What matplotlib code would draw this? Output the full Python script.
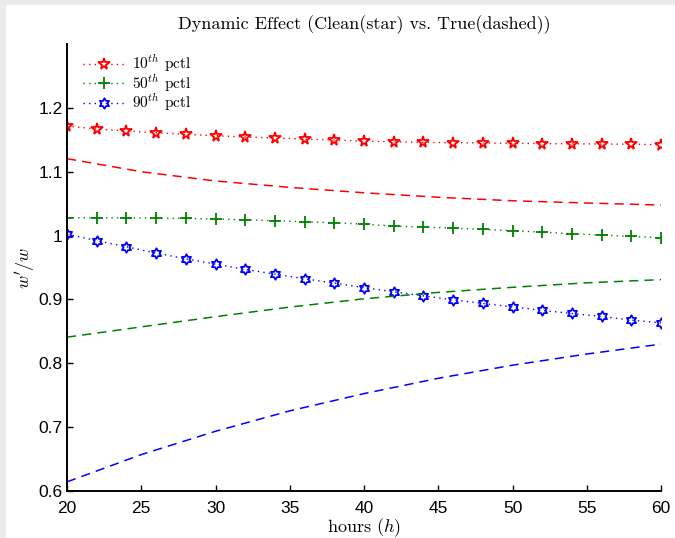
import matplotlib
matplotlib.use("Agg")
import matplotlib.pyplot as plt
import numpy as np
from matplotlib.path import Path
from matplotlib.patches import Rectangle

# Clean (star) series, sampled every 2 hours
hours_clean = [20, 22, 24, 26, 28, 30, 32, 34, 36, 38, 40,
               42, 44, 46, 48, 50, 52, 54, 56, 58, 60]
p10_clean = [1.1716, 1.1669, 1.1638, 1.1611, 1.1586, 1.1564, 1.1544, 1.1528,
             1.1512, 1.1497, 1.1478, 1.1470, 1.1460, 1.1455, 1.1450, 1.1445,
             1.1440, 1.1437, 1.1434, 1.1430, 1.1423]
p50_clean = [1.0279, 1.0279, 1.0278, 1.0274, 1.0269, 1.0259, 1.0248, 1.0232,
             1.0216, 1.0201, 1.0178, 1.0149, 1.0133, 1.0118, 1.0097, 1.0075,
             1.0055, 1.0028, 1.0008, 0.9987, 0.9966]
p90_clean = [1.0024, 0.9920, 0.9825, 0.9726, 0.9636, 0.9553, 0.9470, 0.9397,
             0.9323, 0.9256, 0.9185, 0.9120, 0.9056, 0.8994, 0.8937, 0.8884,
             0.8828, 0.8780, 0.8733, 0.8676, 0.8633]

# True (dashed) series
hours_true = [20, 25, 30, 35, 40, 45, 50, 55, 60]
p10_true = [1.1204, 1.1000, 1.0855, 1.0755, 1.0670, 1.0600, 1.0545, 1.0510, 1.0478]
p50_true = [0.8409, 0.8570, 0.8730, 0.8880, 0.9010, 0.9110, 0.9190, 0.9260, 0.9310]
p90_true = [0.6143, 0.6570, 0.6935, 0.7255, 0.7525, 0.7765, 0.7970, 0.8145, 0.8300]

legend_labels = [r"$10^{th}$ pctl", r"$50^{th}$ pctl", r"$90^{th}$ pctl"]
x_ticks = [20, 25, 30, 35, 40, 45, 50, 55, 60]
y_ticks = [0.6, 0.7, 0.8, 0.9, 1.0, 1.1, 1.2]
y_tick_labels = ["0.6", "0.7", "0.8", "0.9", "1", "1.1", "1.2"]

plt.rcParams["mathtext.fontset"] = "cm"
plt.rcParams["font.family"] = ["Liberation Sans", "DejaVu Sans"]

# six-pointed star (hexagram) marker
ang = np.pi / 2 + np.arange(12) * np.pi / 6
rad = np.where(np.arange(12) % 2 == 0, 1.0, 1.0 / np.sqrt(3))
verts = np.column_stack([rad * np.cos(ang), rad * np.sin(ang)])
verts = np.vstack([verts, verts[:1]])
hexagram = Path(verts, [Path.MOVETO] + [Path.LINETO] * 11 + [Path.CLOSEPOLY])

fig = plt.figure(figsize=(6.75, 5.38), dpi=100)
fig.patch.set_facecolor("#ebebeb")
fig.patches.append(Rectangle((6 / 675, 0), 1 - 6 / 675, 1 - 5 / 538,
                             transform=fig.transFigure, facecolor="white",
                             edgecolor="none", zorder=-10))

ax = fig.add_axes([67 / 675, 47 / 538, (661 - 67) / 675, (491 - 44) / 538])
ax.set_facecolor("white")

dot = (0, (1, 3))
dash = (0, (6, 4))
ax.plot(hours_clean, p10_clean, color="red", linestyle=dot, lw=1,
        marker="*", ms=8.5, mfc="none", mec="red", mew=1.3, label=legend_labels[0])
ax.plot(hours_clean, p50_clean, color="green", linestyle=dot, lw=1,
        marker="+", ms=8, mec="green", mew=1.3, label=legend_labels[1])
ax.plot(hours_clean, p90_clean, color="blue", linestyle=dot, lw=1,
        marker=hexagram, ms=7.5, mfc="none", mec="blue", mew=1.3, label=legend_labels[2])

ax.plot(hours_true, p10_true, color="red", linestyle=dash, lw=1.1)
ax.plot(hours_true, p50_true, color="green", linestyle=dash, lw=1.1)
ax.plot(hours_true, p90_true, color="blue", linestyle=dash, lw=1.1)

ax.set_xlim(20, 60)
ax.set_ylim(0.6, 1.3)
ax.set_xticks(x_ticks)
ax.set_xticklabels([str(t) for t in x_ticks])
ax.set_yticks(y_ticks)
ax.set_yticklabels(y_tick_labels)
for s in ["top", "right"]:
    ax.spines[s].set_visible(False)
for s in ["left", "bottom"]:
    ax.spines[s].set_linewidth(1.4)
ax.tick_params(direction="in", length=4, width=1, labelsize=12.5)
ax.tick_params(axis="x", pad=7.5)
ax.tick_params(axis="y", pad=3)

ax.set_title("Dynamic Effect (Clean(star) vs. True(dashed))",
             fontfamily="cmr10", fontsize=13, pad=11)
ax.set_xlabel("hours ($h$)", fontfamily="cmr10", fontsize=13, labelpad=0)
ax.set_ylabel(r"$w'/w$", fontsize=13, labelpad=1)

leg = ax.legend(loc="upper left", frameon=False, prop={"family": "cmr10", "size": 11},
                handlelength=2.7, borderaxespad=0.3, labelspacing=-0.13,
                handletextpad=0.5, borderpad=0.3, bbox_to_anchor=(0.012, 1.0))

fig.savefig("out.png", dpi=100, facecolor=fig.get_facecolor())
